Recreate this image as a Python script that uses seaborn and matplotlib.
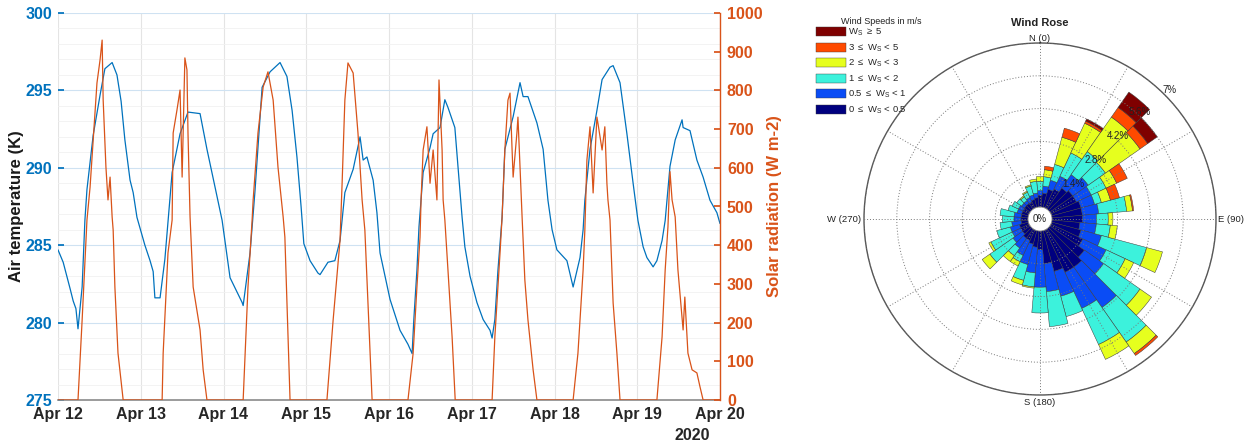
import numpy as np
import pandas as pd
import matplotlib
matplotlib.use("Agg")
import matplotlib.pyplot as plt
from matplotlib.ticker import MultipleLocator
from matplotlib.patches import Patch
import seaborn as sns

# ---- time series (hours since 2020-04-12 00:00) ----
temp_hours = [0, 1.5, 3.5, 4.4, 5.2, 5.8, 7.0, 7.8, 8.4, 10.2, 12.2, 13.6, 15.7, 17.1, 18.3,
              19.4, 20.9, 21.8, 22.9, 25.2, 26.7, 27.6, 28.1, 29.6, 31.0, 33.1, 35.4, 37.7,
              41.2, 43.2, 45.5, 47.6, 49.9, 53.4, 53.7, 55.7, 57.1, 59.2, 61.5, 64.4, 66.4,
              67.9, 69.3, 70.5, 71.3, 73.1, 75.4, 76.0, 78.3, 80.3, 81.8, 83.2, 85.6, 87.6,
              88.5, 89.6, 91.4, 92.5, 93.4, 96.3, 99.2, 101.5, 102.7, 103.2, 104.1, 104.7,
              105.9, 107.9, 108.8, 110.8, 112.2, 113.1, 115.1, 116.0, 117.2, 118.0, 119.5,
              121.5, 123.3, 125.3, 125.9, 126.7, 127.6, 128.8, 129.6, 132.0, 134.0, 134.9,
              136.3, 138.9, 140.7, 142.1, 143.3, 144.7, 147.6, 149.4, 151.4, 152.3, 152.8,
              154.3, 156.3, 157.8, 160.1, 161.0, 163.0, 165.0, 166.8, 168.2, 169.7, 170.8,
              172.6, 173.7, 175.2, 176.1, 177.5, 179.0, 181.0, 181.3, 183.3, 185.3, 187.1,
              189.1, 191.1, 192.0]
temp_k = [284.7, 283.9, 282.2, 281.4, 280.9, 279.6, 282.3, 286.6, 288.6, 292.1, 294.7, 296.4,
          296.8, 296.0, 294.3, 291.8, 289.2, 288.4, 286.8, 285.0, 284.0, 283.3, 281.6, 281.6,
          284.1, 289.7, 292.2, 293.6, 293.5, 291.2, 288.8, 286.6, 282.9, 281.3, 281.1, 284.5,
          288.4, 295.2, 296.2, 296.8, 295.9, 293.7, 290.7, 287.5, 285.1, 284.0, 283.2, 283.1,
          283.9, 284.0, 285.3, 288.4, 289.9, 292.0, 290.5, 290.7, 289.2, 287.1, 284.5, 281.5,
          279.5, 278.6, 278.0, 280.2, 283.4, 286.2, 289.7, 291.3, 292.2, 292.6, 294.4, 293.9,
          292.6, 290.1, 286.8, 284.9, 283.0, 281.3, 280.2, 279.5, 279.0, 280.2, 283.4, 286.8,
          291.2, 293.3, 295.5, 294.6, 294.6, 292.9, 291.2, 287.9, 286.0, 284.7, 284.0, 282.3,
          284.2, 286.0, 287.9, 291.2, 293.7, 295.7, 296.5, 296.6, 295.5, 292.2, 289.0, 286.6,
          284.9, 284.2, 283.6, 284.0, 285.3, 286.6, 290.1, 291.8, 293.1, 292.6, 292.4, 290.5,
          289.4, 287.9, 287.1, 286.4]

rad_hours = [0, 5.8, 7.0, 8.4, 9.3, 11.3, 12.2, 12.8, 13.1, 13.9, 14.5, 15.1, 15.7, 16.0, 16.5,
             17.4, 18.9,
             30.2, 30.5, 31.9, 33.1, 33.4, 34.5, 35.4, 36.0, 36.8, 37.4, 37.7, 38.3, 39.2, 41.2,
             42.1, 43.2,
             53.7, 55.1, 56.3, 56.6, 58.0, 59.5, 60.9, 62.4, 63.8, 65.3, 65.8, 67.3,
             78.0, 79.8, 81.8, 82.4, 83.2, 84.1, 85.6, 87.0, 88.2, 89.0, 91.1,
             101.5, 103.0, 104.1, 105.0, 105.3, 105.9, 107.0, 107.9, 108.8, 109.9, 110.5, 111.4,
             111.7, 112.2, 113.1, 114.3, 115.2,
             125.9, 126.7, 128.2, 128.8, 129.6, 130.5, 131.1, 131.7, 132.0, 133.1, 133.4, 134.0,
             134.6, 134.9, 135.4, 136.3, 137.8, 138.9,
             149.4, 150.8, 152.3, 152.8, 153.4, 154.3, 155.2, 156.3, 156.6, 157.8, 158.6, 159.2,
             159.5, 160.1, 161.0, 162.1, 163.0,
             173.7, 175.2, 176.1, 176.9, 177.5, 178.1, 179.0, 179.8, 181.3, 181.8, 182.7, 183.9,
             185.3, 186.2, 187.1, 192.0]
rad_wm2 = [0, 0, 207, 465, 550, 819, 879, 930, 775, 602, 517, 576, 473, 439, 292, 121, 0,
           0, 121, 380, 465, 690, 749, 801, 576, 884, 853, 690, 473, 292, 181, 78, 0,
           0, 292, 465, 517, 690, 809, 848, 775, 602, 473, 421, 0,
           0, 207, 413, 560, 775, 871, 845, 690, 517, 439, 0,
           0, 121, 292, 421, 517, 646, 706, 560, 646, 517, 827, 646, 517, 465, 336, 163, 0,
           0, 163, 380, 473, 646, 775, 793, 646, 576, 690, 731, 602, 473, 413, 310, 207, 78, 0,
           0, 121, 336, 439, 620, 706, 535, 731, 715, 646, 706, 560, 517, 465, 251, 121, 0,
           0, 163, 336, 447, 590, 517, 473, 336, 181, 266, 121, 78, 70, 34, 0, 0]

day_ticks = ["Apr 12", "Apr 13", "Apr 14", "Apr 15", "Apr 16", "Apr 17", "Apr 18", "Apr 19", "Apr 20"]

# ---- wind rose: frequency (%) per direction for each speed class ----
directions = list(range(0, 360, 10))
ws_0_05 = [0.5, 0.6, 0.8, 0.9, 1.1, 1.2, 1.2, 1.3, 1.3, 1.3, 1.2, 1.3, 1.5, 1.8, 2.0, 2.0, 1.8, 1.4,
           0.8, 0.7, 0.6, 0.5, 0.5, 0.4, 0.4, 0.4, 0.3, 0.3, 0.3, 0.3, 0.3, 0.3, 0.3, 0.3, 0.35, 0.4]
ws_05_1 = [0.2, 0.3, 0.4, 0.6, 0.7, 0.8, 0.7, 0.6, 0.7, 0.6, 0.7, 0.9, 1.1, 1.0, 2.1, 1.7, 1.1, 1.2,
           1.6, 1.1, 0.9, 0.7, 0.5, 0.5, 0.4, 0.4, 0.4, 0.3, 0.3, 0.2, 0.2, 0.15, 0.15, 0.2, 0.2, 0.2]
ws_1_2 = [0.4, 0.4, 0.7, 1.1, 1.2, 0.9, 0.7, 0.3, 1.2, 0.5, 0.6, 2.0, 0.9, 1.9, 1.8, 1.7, 0.9, 1.5,
          1.1, 0.6, 0.7, 0.3, 0.4, 1.2, 1.0, 0.6, 0.5, 0.5, 0.6, 0.4, 0.3, 0.25, 0.2, 0.25, 0.4, 0.5]
ws_2_3 = [0.2, 0.3, 1.2, 1.4, 1.8, 1.8, 0.5, 0.4, 0.25, 0.2, 0.3, 0.7, 0.4, 0.6, 0.6, 0.7, 0, 0,
          0, 0.05, 0.2, 0.2, 0.3, 0.4, 0.1, 0, 0, 0, 0, 0, 0, 0, 0.05, 0.05, 0.05, 0.1]
ws_3_5 = [0, 0.15, 0.4, 0.1, 0.5, 0.4, 0.5, 0.4, 0.05, 0, 0, 0, 0, 0, 0.1, 0, 0, 0,
          0, 0, 0, 0, 0, 0, 0, 0, 0, 0, 0, 0, 0, 0, 0, 0, 0, 0]
ws_5_up = [0, 0, 0, 0.1, 0.8, 0.5, 0, 0, 0, 0, 0, 0, 0, 0, 0, 0, 0, 0,
           0, 0, 0, 0, 0, 0, 0, 0, 0, 0, 0, 0, 0, 0, 0, 0, 0, 0]
speed_labels = ["0 $\\leq$ W$_S$ < 0.5", "0.5 $\\leq$ W$_S$ < 1", "1 $\\leq$ W$_S$ < 2",
                "2 $\\leq$ W$_S$ < 3", "3 $\\leq$ W$_S$ < 5", "W$_S$ $\\geq$ 5"]
speed_colors = ["#00007F", "#0A4CF5", "#3CF2DC", "#E6FF1E", "#FF4A00", "#7F0000"]
rings = [1.4, 2.8, 4.2, 5.6, 7]

BLUE = "#0072BD"
ORANGE = "#D95319"

sns.set_theme(style="white")
plt.rcParams["font.family"] = ["Liberation Sans", "DejaVu Sans"]
plt.rcParams["mathtext.default"] = "regular"

W, H = 1244, 444
fig = plt.figure(figsize=(W / 100, H / 100), dpi=100)

# ---------------- left: temperature + radiation ----------------
ax = fig.add_axes([58 / W, 44 / H, 662 / W, 387 / H])
start = pd.Timestamp("2020-04-12")
temp_df = pd.DataFrame({"time": start + pd.to_timedelta(temp_hours, unit="h"), "temp": temp_k})
rad_df = pd.DataFrame({"time": start + pd.to_timedelta(rad_hours, unit="h"), "rad": rad_wm2})

sns.lineplot(data=temp_df, x="time", y="temp", ax=ax, color=BLUE, linewidth=0.9)
ax.set_xlim(start, start + pd.Timedelta(days=8))
ax.set_ylim(275, 300)
ax.set_yticks(range(275, 301, 5))
ax.yaxis.set_minor_locator(MultipleLocator(1))
ax.set_xticks(pd.date_range(start, periods=9, freq="D"))
ax.set_xticklabels(day_ticks)
ax.grid(which="major", axis="y", color="#CFE2F2", linewidth=0.8)
ax.grid(which="minor", axis="y", color="#F1F1F1", linewidth=0.6)
ax.grid(which="major", axis="x", color="#E4E4E4", linewidth=0.8)
ax.set_axisbelow(True)
ax.set_xlabel("")
ax.set_ylabel("Air temperature (K)", fontsize=12, fontweight="bold", color="#1a1a1a", labelpad=1)
ax.tick_params(axis="y", which="major", direction="in", length=4, colors=BLUE, labelsize=11.5, pad=4)
ax.tick_params(axis="y", which="minor", length=0)
ax.tick_params(axis="x", direction="in", length=4, colors="#262626", labelsize=11.5, pad=5)
for lab in ax.get_yticklabels() + ax.get_xticklabels():
    lab.set_fontweight("bold")
ax.spines["top"].set_visible(False)
ax.spines["left"].set_visible(False)
ax.spines["right"].set_visible(False)
ax.spines["bottom"].set_color("#8a8a8a")
ax.spines["bottom"].set_linewidth(1.2)

ax2 = ax.twinx()
sns.lineplot(data=rad_df, x="time", y="rad", ax=ax2, color=ORANGE, linewidth=0.9)
ax2.set_ylim(0, 1000)
ax2.set_yticks(range(0, 1001, 100))
ax2.set_ylabel("Solar radiation (W m-2)", fontsize=12, fontweight="bold", color=ORANGE, labelpad=3)
ax2.tick_params(axis="y", direction="in", length=4, colors=ORANGE, labelsize=11.5, pad=5)
for lab in ax2.get_yticklabels():
    lab.set_fontweight("bold")
for s in ["top", "left", "bottom"]:
    ax2.spines[s].set_visible(False)
ax2.spines["right"].set_color(ORANGE)
ax2.spines["right"].set_linewidth(1.0)
ax2.grid(False)

fig.text(692 / W, 1 - 435 / H, "2020", ha="center", va="center", fontsize=11.5,
         fontweight="bold", color="#262626")

# ---------------- right: wind rose ----------------
pax = fig.add_axes([864 / W, 49 / H, 352 / W, 352 / H], projection="polar")
pax.set_theta_zero_location("N")
pax.set_theta_direction(-1)
pax.set_ylim(0, 7)
pax.set_rorigin(-0.512)

theta = np.deg2rad(directions)
width = np.deg2rad(10)
bottom = np.zeros(len(directions))
classes = [ws_0_05, ws_05_1, ws_1_2, ws_2_3, ws_3_5, ws_5_up]
for vals, col in zip(classes, speed_colors):
    vals = np.array(vals)
    m = vals > 0
    pax.bar(theta[m], vals[m], width=width, bottom=bottom[m], color=col,
            edgecolor="#3a3a3a", linewidth=0.35, align="center")
    bottom = bottom + vals

pax.set_thetagrids(range(0, 360, 30), labels=[])
pax.set_rgrids(rings, labels=[])
pax.grid(True, color="#777777", linestyle=(0, (1, 2)), linewidth=0.7)
pax.set_axisbelow(False)
pax.spines["polar"].set_color("#555555")
pax.spines["polar"].set_linewidth(1.0)
pax.spines["inner"].set_color("#888888")
pax.spines["inner"].set_linewidth(0.6)

for r in rings[:-1]:
    pax.text(np.deg2rad(43), r + 0.15, f"{r}%", ha="center", va="center", fontsize=7, color="#222222")
pax.text(np.deg2rad(45), 7.3, "7%", ha="center", va="center", fontsize=7, color="#222222")
pax.text(0.5, 0.5, "0%", transform=pax.transAxes, ha="center", va="center", fontsize=7, color="#222222")

lbl = dict(fontsize=6.8, color="#222222", transform=pax.transAxes)
pax.text(0.5, 1.014, "N (0)", ha="center", va="center", **lbl)
pax.text(0.5, -0.022, "S (180)", ha="center", va="center", **lbl)
pax.text(1.006, 0.5, "E (90)", ha="left", va="center", **lbl)
pax.text(-0.008, 0.5, "W (270)", ha="right", va="center", **lbl)

fig.text(1040 / W, 1 - 23 / H, "Wind Rose", ha="center", va="center", fontsize=8,
         fontweight="bold", color="#222222")
fig.text(881 / W, 1 - 22 / H, "Wind Speeds in m/s", ha="center", va="center", fontsize=6.5,
         color="#222222")

handles = [Patch(facecolor=c, edgecolor="#3a3a3a", linewidth=0.3) for c in speed_colors][::-1]
leg = pax.legend(handles, speed_labels[::-1], loc="upper left",
                 bbox_to_anchor=(816 / W, 1 - 27 / H), bbox_transform=fig.transFigure,
                 frameon=False, fontsize=6.8,
                 handlelength=3.2, handleheight=1.1, handletextpad=0.15, labelspacing=0.42,
                 borderaxespad=0, borderpad=0)

fig.savefig("out.png", dpi=100)
